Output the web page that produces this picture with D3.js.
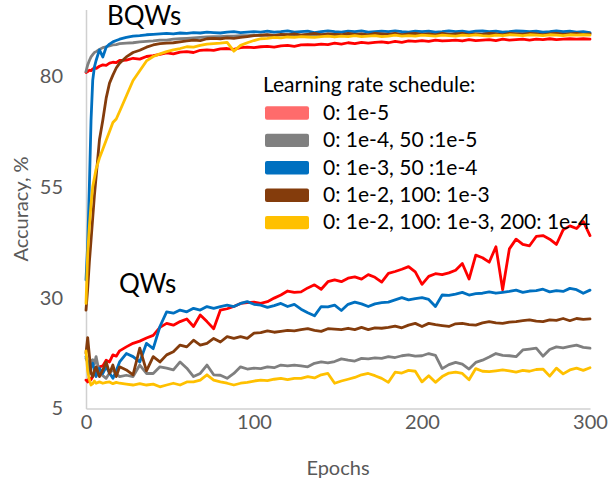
<!DOCTYPE html>
<html>
<head>
<meta charset="utf-8">
<script src="https://cdn.jsdelivr.net/npm/d3@7/dist/d3.min.js"></script>
<style>
  body { margin: 0; background: #fff; }
  svg { display: block; font-family: Lato, "Open Sans", sans-serif; }
</style>
</head>
<body>
<svg id="chart" width="610" height="485"></svg>
<script>
// epochs sampled along the x axis
const epochs = [0,1,2,3,4,5,6,8,10,12,14,16,18,20,
  24,28,32,36,40,44,48,52,56,60,64,68,72,76,80,84,88,92,96,100,
  104,108,112,116,120,124,128,132,136,140,144,148,152,156,160,164,168,172,176,180,184,188,192,196,200,
  204,208,212,216,220,224,228,232,236,240,244,248,252,256,260,264,268,272,276,280,284,288,292,296,300];

// BQWs accuracy (%)
const bqwRed = [80.8,81.0,81.3,81.2,81.6,81.8,81.7,82.2,82.5,82.4,82.9,83.1,83.0,83.5,
  83.6,84.0,83.8,84.4,84.6,84.9,85.2,85.0,85.4,85.5,85.3,85.8,85.9,85.8,86.1,86.2,86.0,86.4,86.5,86.4,
  86.6,86.7,86.5,86.8,86.9,86.7,87.0,87.1,87.0,87.2,87.1,87.4,87.2,87.5,87.3,87.6,87.4,87.6,87.7,87.5,87.8,87.6,87.9,87.8,88.0,
  87.8,88.1,87.9,88.0,88.1,87.9,88.2,88.0,88.1,88.2,88.0,88.3,88.1,88.2,88.3,88.1,88.3,88.2,88.4,88.2,88.3,88.4,88.3,88.4,88.3];
const bqwGray = [81.0,82.5,83.5,84.3,84.8,85.3,85.5,86.0,86.4,86.6,86.8,87.0,87.1,87.3,
  87.4,87.5,87.7,87.8,87.9,88.1,88.1,88.3,88.4,88.5,88.6,88.7,88.8,88.9,88.9,89.0,89.0,89.1,89.1,89.2,
  89.1,89.3,89.2,89.2,89.4,89.3,89.2,89.4,89.3,89.5,89.3,89.4,89.2,89.4,89.5,89.3,89.4,89.6,89.4,89.3,89.5,89.4,89.6,89.5,89.4,
  89.5,89.6,89.4,89.5,89.3,89.5,89.6,89.4,89.5,89.7,89.5,89.4,89.6,89.5,89.7,89.5,89.6,89.4,89.6,89.7,89.5,89.6,89.5,89.7,89.6];
const bqwBlue = [34.0,42.0,55.0,70.0,79.0,82.0,83.5,85.9,84.3,86.5,87.2,87.7,88.0,88.3,
  88.7,89.0,89.1,89.3,89.4,89.5,89.6,89.5,89.7,89.6,89.8,89.7,89.9,89.8,89.7,89.9,90.0,89.8,89.9,90.0,
  89.9,90.1,89.9,90.0,90.2,89.9,90.0,90.1,89.8,90.0,90.2,90.0,89.9,90.1,90.0,90.2,89.9,90.0,90.1,90.0,90.2,90.0,89.9,90.1,90.0,
  90.1,89.9,90.0,90.2,90.0,90.1,89.9,90.1,90.2,90.0,90.1,89.9,90.0,90.2,90.1,90.0,90.1,89.9,90.0,90.2,90.0,90.1,89.9,90.0,89.8];
const bqwBrown = [27.2,32.0,38.0,43.0,48.0,53.0,57.2,65.6,70.0,75.0,78.4,80.2,81.8,82.9,
  84.3,85.3,85.8,86.5,87.0,87.3,87.4,87.5,87.7,87.9,88.1,88.0,88.4,88.5,88.4,88.6,88.5,88.7,88.9,89.1,
  89.2,89.3,89.1,89.4,89.3,89.5,89.2,89.4,89.6,89.3,89.5,89.4,89.3,89.6,89.4,89.5,89.3,89.6,89.5,89.4,89.6,89.3,89.5,89.6,89.4,
  89.5,89.3,89.6,89.4,89.5,89.6,89.3,89.5,89.4,89.6,89.5,89.3,89.6,89.5,89.4,89.6,89.5,89.3,89.5,89.6,89.4,89.5,89.6,89.4,89.5];
const bqwYellow = [28.7,40.0,46.0,51.0,55.0,57.0,59.0,61.5,63.5,65.5,67.5,69.5,70.3,72.0,
  75.5,79.0,81.2,83.4,84.4,85.0,85.5,85.9,86.2,86.6,86.5,86.9,87.2,87.3,87.4,87.6,85.6,86.9,87.5,88.0,
  88.4,88.5,88.7,88.6,88.8,88.7,88.9,88.8,88.7,88.9,89.0,88.8,89.0,88.9,89.1,88.9,89.0,89.1,88.9,89.0,89.2,89.0,89.1,89.0,89.2,
  89.1,89.0,89.2,89.1,89.0,89.2,89.1,89.3,89.1,89.0,89.2,89.1,89.3,89.2,89.1,89.3,89.2,89.1,89.3,89.2,89.1,89.3,89.2,89.3,89.2];

// QWs accuracy (%)
const qwRed = [11.4,11.0,12.0,11.5,12.2,12.8,13.2,14.4,14.6,15.9,15.5,17.1,16.8,18.0,
  18.9,19.7,20.2,20.9,21.5,23.3,24.2,23.8,24.6,25.2,23.5,26.1,24.6,23.0,27.2,27.5,28.0,28.7,28.9,29.0,
  28.7,29.1,29.9,30.6,31.5,31.2,31.3,32.2,32.9,31.9,33.6,34.0,33.6,34.4,34.7,34.2,35.2,34.6,33.5,35.5,35.9,36.4,37.0,35.8,33.0,
  34.8,35.4,35.2,35.6,36.2,37.7,34.2,39.6,39.0,38.0,41.5,31.8,41.0,43.2,42.0,41.7,43.8,44.0,43.2,42.0,45.3,46.2,45.6,47.2,44.0];
const qwGray = [16.3,15.5,14.4,15.8,16.0,15.0,16.7,12.9,12.4,11.8,13.0,13.7,12.8,12.2,
  12.5,12.2,14.8,12.9,12.9,14.4,14.1,13.7,15.5,14.1,12.2,12.9,14.8,12.6,12.5,11.8,12.9,14.4,13.9,14.1,
  14.0,14.4,14.2,14.8,14.6,14.8,14.6,14.4,15.2,15.5,15.3,15.6,16.2,15.9,15.7,16.3,16.2,16.4,16.3,16.7,16.5,16.9,17.1,16.8,16.9,
  17.4,17.0,14.0,14.9,15.4,15.0,13.9,15.4,15.9,16.6,17.4,17.0,16.9,16.7,18.2,18.4,18.6,16.8,18.3,18.9,18.7,19.0,19.3,18.8,18.6];
const qwBlue = [16.7,15.5,12.9,14.5,15.2,13.5,12.2,14.1,12.9,14.4,13.0,11.8,13.5,15.5,
  17.4,16.7,15.5,19.7,18.5,23.5,26.8,26.5,27.2,26.8,27.6,27.2,28.0,27.6,28.0,28.3,28.0,28.7,29.1,28.5,
  28.3,27.8,28.2,28.7,28.0,28.5,27.4,26.6,25.9,28.0,27.9,28.3,27.1,28.5,29.0,28.6,28.0,28.6,28.9,29.0,29.5,30.0,29.5,29.8,30.0,
  29.6,28.0,30.6,30.5,30.8,31.2,30.6,30.9,31.0,31.3,31.0,31.2,31.4,31.7,31.2,31.5,31.6,31.9,31.3,31.6,31.4,32.1,31.8,31.0,31.7];
const qwBrown = [17.5,21.0,17.0,13.0,12.2,13.5,14.4,12.2,13.7,15.5,12.9,14.8,12.2,14.4,
  13.7,12.6,18.6,13.5,16.7,15.5,17.1,17.8,19.3,18.9,20.4,19.3,19.7,20.8,20.0,21.2,20.8,21.2,20.8,22.0,
  22.1,22.5,22.2,22.4,22.6,22.5,22.8,23.0,22.6,22.4,23.0,22.9,22.8,23.1,22.8,23.3,22.8,23.2,23.1,23.3,23.6,23.2,23.8,24.2,23.5,
  24.2,23.9,23.7,23.5,24.1,24.2,23.9,23.8,24.3,24.6,24.3,24.2,24.5,24.6,24.8,25.0,24.7,24.6,25.0,24.9,25.3,24.8,25.3,25.1,25.2];
const qwYellow = [18.0,13.5,11.5,10.3,10.6,11.2,10.7,11.0,10.7,10.9,11.0,10.6,10.9,10.7,
  10.5,10.3,10.6,10.3,10.5,9.9,10.3,10.7,10.3,11.0,11.0,11.4,12.6,11.4,11.0,10.7,10.3,10.7,10.9,11.2,
  11.4,11.3,11.6,11.8,11.5,11.8,11.8,12.2,11.9,12.6,12.9,10.7,11.2,11.6,12.0,12.6,12.9,12.4,11.8,10.9,13.2,13.0,13.6,13.4,11.0,
  12.4,10.9,12.2,13.0,13.2,12.9,11.5,14.0,13.4,13.3,13.5,13.7,13.5,13.2,13.6,13.4,13.8,13.9,12.3,14.1,12.8,13.7,14.1,13.6,14.2];

const scheduleNames = ["0: 1e-5", "0: 1e-4, 50 :1e-5", "0: 1e-3, 50 :1e-4",
  "0: 1e-2, 100: 1e-3", "0: 1e-2, 100: 1e-3, 200: 1e-4"];
const lineColors = ["#ff0000", "#7f7f7f", "#0070c0", "#843c0c", "#ffc000"];
const swatchColors = ["#ff6b6b", "#808080", "#0070c0", "#843c0c", "#ffc000"];
const yTicks = [5, 30, 55, 80];
const xTicks = [0, 100, 200, 300];

const bqw = [bqwRed, bqwGray, bqwBlue, bqwBrown, bqwYellow];
const qw = [qwRed, qwGray, qwBlue, qwBrown, qwYellow];

const svg = d3.select("#chart");
const MARGIN = { LEFT: 86, RIGHT: 20, TOP: 9.5, BOTTOM: 76.5 };
const width = 610, height = 485;

svg.append("rect").attr("width", width).attr("height", height).attr("fill", "#fff");

let x = d3.scaleLinear().domain([0, 300]).range([MARGIN.LEFT, width - MARGIN.RIGHT]);
let y = d3.scaleLinear().domain([5, 95]).range([height - MARGIN.BOTTOM, MARGIN.TOP]);

// axes
let yAxis = svg.append("g")
  .attr("transform", "translate(" + MARGIN.LEFT + ",0)")
  .call(d3.axisLeft(y).tickValues(yTicks).tickSize(0).tickSizeOuter(0).tickPadding(23));
let xAxis = svg.append("g")
  .attr("transform", "translate(0," + (height - MARGIN.BOTTOM) + ")")
  .call(d3.axisBottom(x).tickValues(xTicks).tickSize(0).tickSizeOuter(0).tickPadding(6));

[xAxis, yAxis].forEach(g => {
  g.select(".domain").attr("stroke", "#d0d0d0").attr("stroke-width", 1.5);
  g.selectAll("text").attr("fill", "#595959").style("font-size", "20px").style("font-family", "Lato");
});

let line = d3.line()
  .x((d, i) => x(epochs[i]))
  .y(d => y(d));

let lines = svg.append("g").attr("fill", "none").attr("stroke-width", 2.8)
  .attr("stroke-linejoin", "round").attr("stroke-linecap", "round");

qw.forEach((s, i) => {
  lines.append("path").attr("d", line(s)).attr("stroke", lineColors[i]);
});
bqw.forEach((s, i) => {
  lines.append("path").attr("d", line(s)).attr("stroke", lineColors[i]);
});

// panel labels
svg.append("text").attr("x", 107).attr("y", 25).text("BQWs")
  .style("font-size", "26px").attr("fill", "#000");
svg.append("text").attr("x", 119).attr("y", 293).text("QWs")
  .style("font-size", "26px").attr("fill", "#000");

// axis titles
svg.append("text")
  .attr("transform", "translate(28,209) rotate(-90)")
  .attr("text-anchor", "middle")
  .attr("fill", "#595959")
  .style("font-size", "20px")
  .text("Accuracy, %");
svg.append("text")
  .attr("x", (MARGIN.LEFT + width - MARGIN.RIGHT) / 2)
  .attr("y", 475)
  .attr("text-anchor", "middle")
  .attr("fill", "#595959")
  .style("font-size", "20px")
  .text("Epochs");

// legend
let legend = svg.append("g").attr("transform", "translate(263,0)");
legend.append("text").attr("x", 0).attr("y", 91.5).text("Learning rate schedule:")
  .style("font-size", "21px").attr("fill", "#000");
scheduleNames.forEach((name, i) => {
  let cy = 113 + i * 27.4;
  legend.append("rect").attr("x", 2).attr("y", cy - 6.7).attr("width", 44).attr("height", 13.4)
    .attr("rx", 2).attr("fill", swatchColors[i]);
  legend.append("text").attr("x", 60).attr("y", cy + 6.8).text(name)
    .style("font-size", "21px").attr("fill", "#000");
});
</script>
</body>
</html>
